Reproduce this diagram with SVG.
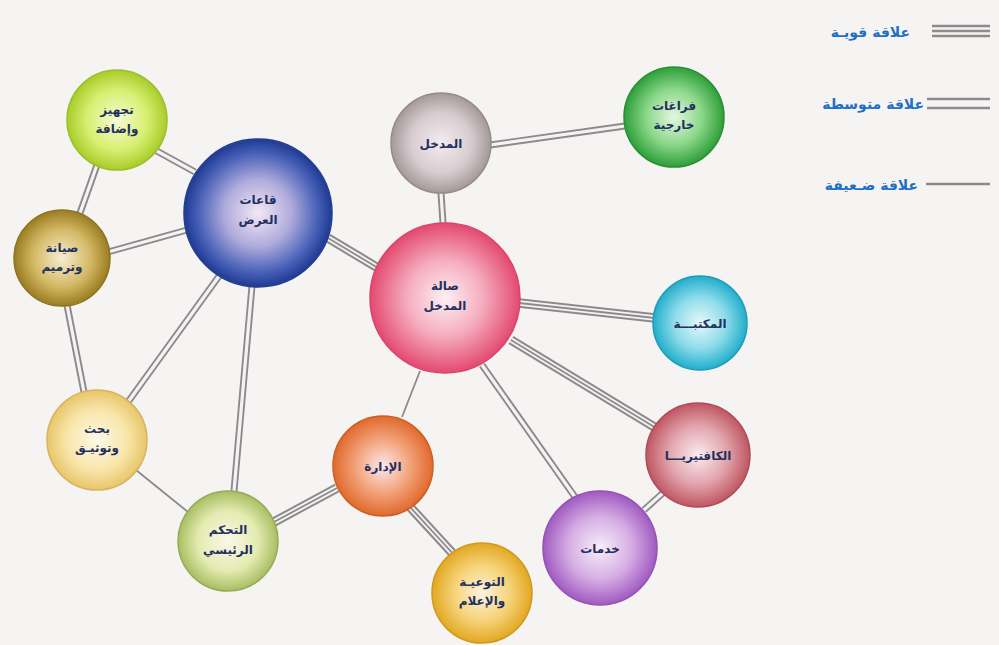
<svg xmlns="http://www.w3.org/2000/svg" xmlns:xlink="http://www.w3.org/1999/xlink" width="999" height="645" viewBox="0 0 999 645">
<style>
.bg{fill:#f6f4f3}
.o3{stroke:#8c8a8a;stroke-width:9.5;fill:none}
.w3{stroke:#f4f2f2;stroke-width:5.5;fill:none}
.m3{stroke:#8c8a8a;stroke-width:1.8;fill:none}
.o2{stroke:#8c8a8a;stroke-width:7;fill:none}
.w2{stroke:#f4f2f2;stroke-width:3.2;fill:none}
.s1{stroke:#8c8a8a;stroke-width:1.8;fill:none}
.lg{stroke:#8c8a8a;stroke-width:2.4;fill:none}
.lbl{font-family:"DejaVu Sans",sans-serif;font-weight:bold;font-size:12px;fill:#23305e;text-anchor:middle}
.leg{font-family:"DejaVu Sans",sans-serif;font-weight:bold;font-size:14px;fill:#1f6fc4;text-anchor:end}
circle{stroke-width:1.5}
</style>
<defs>
<radialGradient id="gYel" cx="50%" cy="50%" r="50%"><stop offset="0" stop-color="#f4fbd8"/><stop offset="0.6" stop-color="#d8ef70"/><stop offset="1" stop-color="#a8cc2a"/></radialGradient>
<radialGradient id="gBlue" cx="50%" cy="50%" r="50%"><stop offset="0" stop-color="#f3e8f6"/><stop offset="0.45" stop-color="#b0acdc"/><stop offset="0.8" stop-color="#4a62b8"/><stop offset="1" stop-color="#1f3a94"/></radialGradient>
<radialGradient id="gOlive" cx="50%" cy="50%" r="50%"><stop offset="0" stop-color="#f6eed2"/><stop offset="0.6" stop-color="#d4b864"/><stop offset="1" stop-color="#9a7c22"/></radialGradient>
<radialGradient id="gGray" cx="50%" cy="50%" r="50%"><stop offset="0" stop-color="#f3ecf0"/><stop offset="0.6" stop-color="#d8ccd0"/><stop offset="1" stop-color="#a39a98"/></radialGradient>
<radialGradient id="gGreen" cx="50%" cy="50%" r="50%"><stop offset="0" stop-color="#e4f8e2"/><stop offset="0.55" stop-color="#8cd88a"/><stop offset="1" stop-color="#2e9f3a"/></radialGradient>
<radialGradient id="gPink" cx="50%" cy="50%" r="50%"><stop offset="0" stop-color="#fcf0f3"/><stop offset="0.5" stop-color="#f5aebf"/><stop offset="1" stop-color="#e34a70"/></radialGradient>
<radialGradient id="gCyan" cx="50%" cy="50%" r="50%"><stop offset="0" stop-color="#e6f8fa"/><stop offset="0.55" stop-color="#8edcea"/><stop offset="1" stop-color="#22aecb"/></radialGradient>
<radialGradient id="gBeige" cx="50%" cy="50%" r="50%"><stop offset="0" stop-color="#fdf8e8"/><stop offset="0.6" stop-color="#f8e6aa"/><stop offset="1" stop-color="#e8c66a"/></radialGradient>
<radialGradient id="gOrange" cx="50%" cy="50%" r="50%"><stop offset="0" stop-color="#fbe8ee"/><stop offset="0.5" stop-color="#f4a882"/><stop offset="1" stop-color="#e06a2c"/></radialGradient>
<radialGradient id="gLime" cx="50%" cy="50%" r="50%"><stop offset="0" stop-color="#fbf7ea"/><stop offset="0.6" stop-color="#e4ebb0"/><stop offset="1" stop-color="#a8be62"/></radialGradient>
<radialGradient id="gGold" cx="50%" cy="50%" r="50%"><stop offset="0" stop-color="#fdf2e0"/><stop offset="0.55" stop-color="#f6d47a"/><stop offset="1" stop-color="#e2a822"/></radialGradient>
<radialGradient id="gRose" cx="50%" cy="50%" r="50%"><stop offset="0" stop-color="#f9ecef"/><stop offset="0.55" stop-color="#e2a6ae"/><stop offset="1" stop-color="#c05662"/></radialGradient>
<radialGradient id="gPurple" cx="50%" cy="50%" r="50%"><stop offset="0" stop-color="#f8eefa"/><stop offset="0.55" stop-color="#d6aee4"/><stop offset="1" stop-color="#a15ac0"/></radialGradient>
<path id="c1" d="M155,150 L195,172"/>
<path id="c2" d="M97,165 L80,213"/>
<path id="c3" d="M108,252 L187,230"/>
<path id="c4" d="M67,305 L84,392"/>
<path id="c5" d="M328,238 L378,268"/>
<path id="c6" d="M222,272 L128,402"/>
<path id="c7" d="M252,286 L234,491"/>
<path id="c8" d="M136,470 L188,512"/>
<path id="c9" d="M490,145 L625,126"/>
<path id="c10" d="M441,193 L443,223"/>
<path id="c11" d="M519,303 L655,318"/>
<path id="c12" d="M511,340 L656,428"/>
<path id="c13" d="M482,365 L575,497"/>
<path id="c14" d="M420,371 L402,417"/>
<path id="c15" d="M337,488 L274,522"/>
<path id="c16" d="M410,507 L456,557"/>
<path id="c17" d="M664,492 L644,510"/>
</defs>
<rect class="bg" x="0" y="0" width="999" height="645"/>
<g id="connectors">
<use xlink:href="#c1" class="o2"/><use xlink:href="#c1" class="w2"/>
<use xlink:href="#c2" class="o2"/><use xlink:href="#c2" class="w2"/>
<use xlink:href="#c3" class="o2"/><use xlink:href="#c3" class="w2"/>
<use xlink:href="#c4" class="o2"/><use xlink:href="#c4" class="w2"/>
<use xlink:href="#c5" class="o3"/><use xlink:href="#c5" class="w3"/><use xlink:href="#c5" class="m3"/>
<use xlink:href="#c6" class="o2"/><use xlink:href="#c6" class="w2"/>
<use xlink:href="#c7" class="o2"/><use xlink:href="#c7" class="w2"/>
<use xlink:href="#c8" class="s1"/>
<use xlink:href="#c9" class="o2"/><use xlink:href="#c9" class="w2"/>
<use xlink:href="#c10" class="o2"/><use xlink:href="#c10" class="w2"/>
<use xlink:href="#c11" class="o3"/><use xlink:href="#c11" class="w3"/><use xlink:href="#c11" class="m3"/>
<use xlink:href="#c12" class="o3"/><use xlink:href="#c12" class="w3"/><use xlink:href="#c12" class="m3"/>
<use xlink:href="#c13" class="o2"/><use xlink:href="#c13" class="w2"/>
<use xlink:href="#c14" class="s1"/>
<use xlink:href="#c15" class="o3"/><use xlink:href="#c15" class="w3"/><use xlink:href="#c15" class="m3"/>
<use xlink:href="#c16" class="o3"/><use xlink:href="#c16" class="w3"/><use xlink:href="#c16" class="m3"/>
<use xlink:href="#c17" class="o2"/><use xlink:href="#c17" class="w2"/>
</g>
<g id="n-tajhiz"><circle cx="117" cy="120" r="50" fill="url(#gYel)" stroke="#9dbf2a"/><text class="lbl" x="117" y="114">تجهيز</text><text class="lbl" x="117" y="133">وإضافة</text></g>
<g id="n-qaat"><circle cx="258" cy="213" r="74" fill="url(#gBlue)" stroke="#233e8e"/><text class="lbl" x="258" y="204">قاعات</text><text class="lbl" x="258" y="224">العرض</text></g>
<g id="n-siyana"><circle cx="62" cy="258" r="48" fill="url(#gOlive)" stroke="#8f7420"/><text class="lbl" x="62" y="252">صيانة</text><text class="lbl" x="62" y="271">وترميم</text></g>
<g id="n-madkhal"><circle cx="441" cy="143" r="50" fill="url(#gGray)" stroke="#958c8a"/><text class="lbl" x="441" y="148">المدخل</text></g>
<g id="n-faraghat"><circle cx="674" cy="117" r="50" fill="url(#gGreen)" stroke="#2a8e34"/><text class="lbl" x="674" y="110">فراغات</text><text class="lbl" x="674" y="129">خارجية</text></g>
<g id="n-sala"><circle cx="445" cy="298" r="75" fill="url(#gPink)" stroke="#d94468"/><text class="lbl" x="445" y="290">صالة</text><text class="lbl" x="445" y="310">المدخل</text></g>
<g id="n-maktaba"><circle cx="700" cy="323" r="47" fill="url(#gCyan)" stroke="#1d9cb8"/><text class="lbl" x="700" y="328">المكتبـــة</text></g>
<g id="n-bahth"><circle cx="97" cy="440" r="50" fill="url(#gBeige)" stroke="#d7b460"/><text class="lbl" x="97" y="433">بحث</text><text class="lbl" x="97" y="452">وتوثيـق</text></g>
<g id="n-idara"><circle cx="383" cy="466" r="50" fill="url(#gOrange)" stroke="#cc5e26"/><text class="lbl" x="383" y="471">الإدارة</text></g>
<g id="n-tahakkum"><circle cx="228" cy="541" r="50" fill="url(#gLime)" stroke="#98ab58"/><text class="lbl" x="228" y="534">التحكم</text><text class="lbl" x="228" y="554">الرئيسي</text></g>
<g id="n-tawiya"><circle cx="482" cy="593" r="50" fill="url(#gGold)" stroke="#d09a20"/><text class="lbl" x="482" y="586">التوعيـة</text><text class="lbl" x="482" y="605">والإعلام</text></g>
<g id="n-cafeteria"><circle cx="698" cy="455" r="52" fill="url(#gRose)" stroke="#ad4c58"/><text class="lbl" x="698" y="460">الكافتيريـــا</text></g>
<g id="n-khadamat"><circle cx="600" cy="548" r="57" fill="url(#gPurple)" stroke="#9352b0"/><text class="lbl" x="600" y="553">خدمات</text></g>
<g id="legend">
<line x1="932" y1="26" x2="990" y2="26" class="lg"/><line x1="932" y1="31" x2="990" y2="31" class="lg"/><line x1="932" y1="36" x2="990" y2="36" class="lg"/>
<text class="leg" x="910" y="37">علاقة قويـة</text>
<line x1="927" y1="99" x2="990" y2="99" class="lg"/><line x1="927" y1="108" x2="990" y2="108" class="lg"/>
<text class="leg" x="924" y="109">علاقة متوسطة</text>
<line x1="926" y1="184" x2="990" y2="184" class="lg"/>
<text class="leg" x="918" y="190">علاقة ضـعيفة</text>
</g>
</svg>
